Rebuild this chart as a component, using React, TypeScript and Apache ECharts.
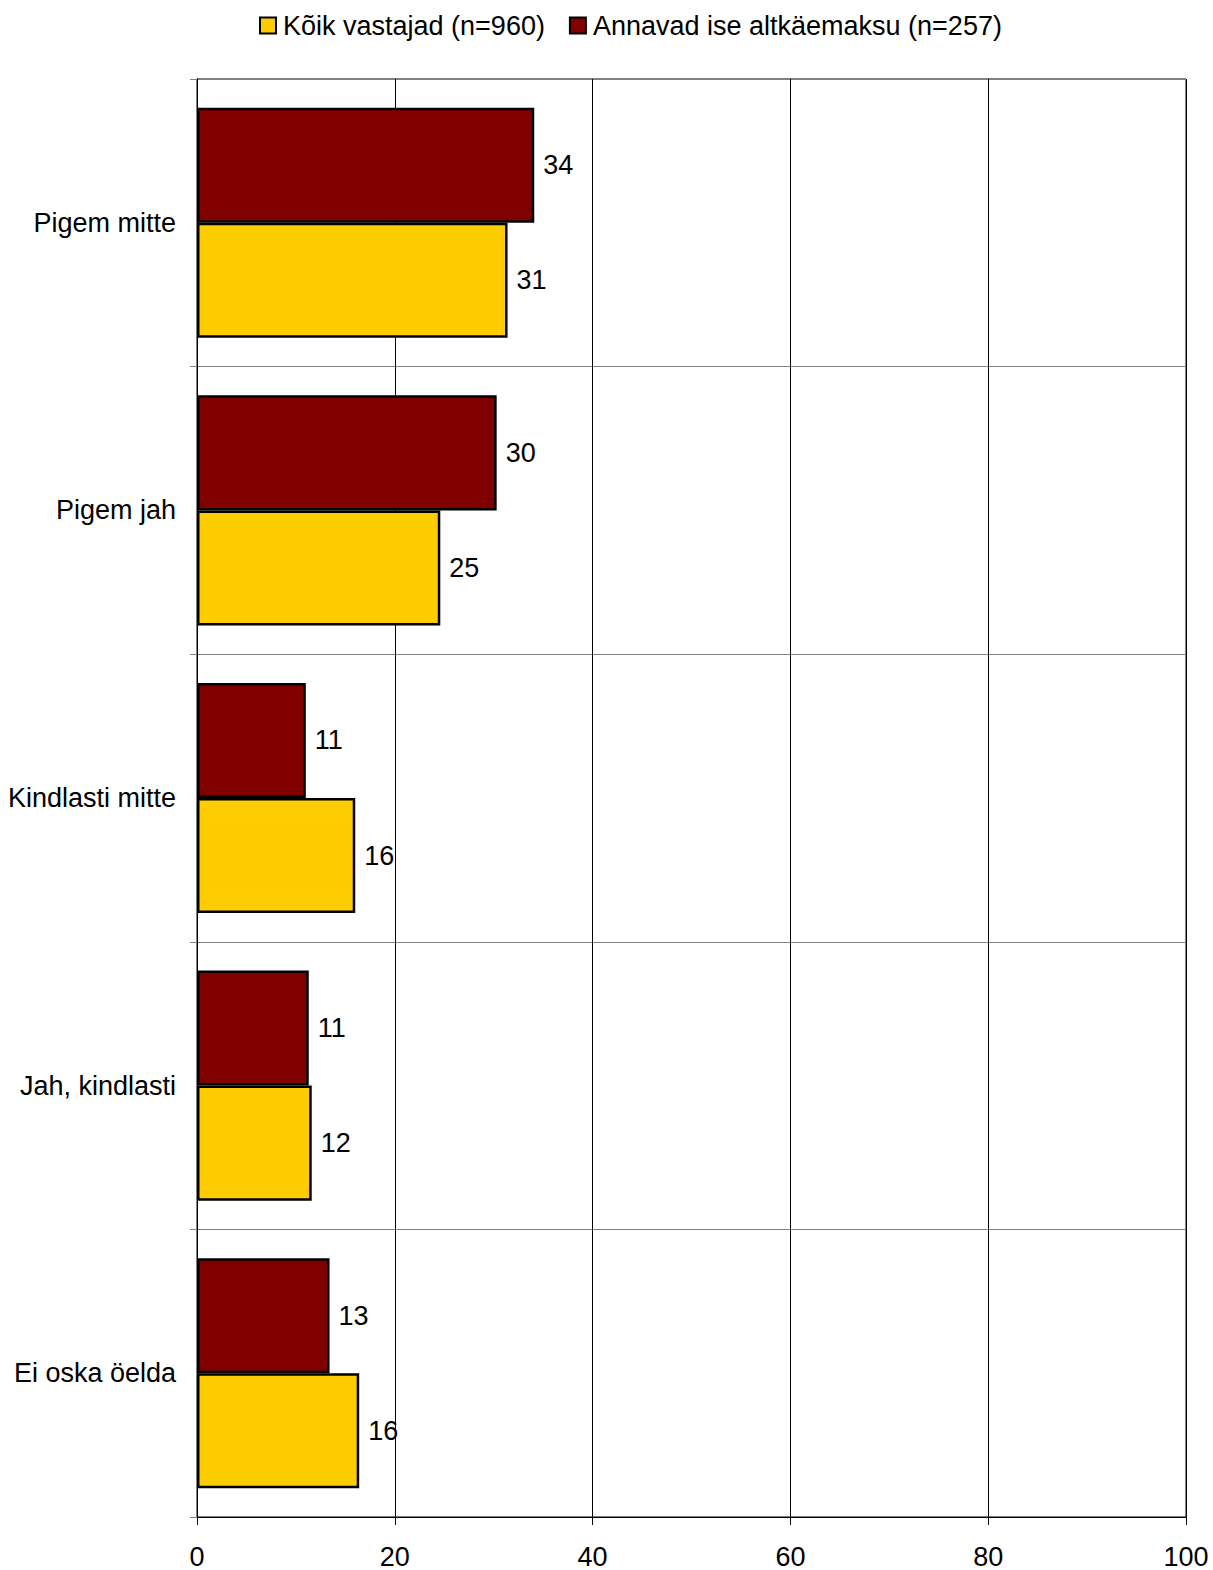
import React, { useEffect, useRef } from "react";
import * as echarts from "echarts";

const categories = ["Pigem mitte", "Pigem jah", "Kindlasti mitte", "Jah, kindlasti", "Ei oska öelda"];
const allRespondents = [31.4, 24.6, 16.0, 11.6, 16.4];
const bribeGivers = [34.1, 30.3, 11.0, 11.3, 13.4];
const seriesNames = ["Kõik vastajad (n=960)", "Annavad ise altkäemaksu (n=257)"];
const xTicks = [0, 20, 40, 60, 80, 100];

const FONT = "'Liberation Sans', Arial, sans-serif";
const FS = 27;

export default function App() {
  const ref = useRef<HTMLDivElement>(null);
  useEffect(() => {
    if (!ref.current) return;
    const chart = echarts.init(ref.current, undefined, { renderer: "svg" });
    const labelCfg = {
      show: true,
      position: "right",
      distance: 9,
      color: "#000",
      fontSize: FS,
      fontFamily: FONT,
      formatter: (p: any) => String(Math.round(p.value)),
    };
    chart.setOption({
      animation: false,
      backgroundColor: "#fff",
      textStyle: { fontFamily: FONT },
      legend: {
        top: 12,
        left: 259,
        padding: 0,
        itemWidth: 16,
        itemHeight: 16,
        itemGap: 24,
        icon: "rect",
        data: [seriesNames[0], seriesNames[1]],
        textStyle: { fontSize: FS, color: "#000", fontFamily: FONT, padding: [0, 0, 0, 2] },
      },
      grid: {
        left: 197,
        right: 27,
        top: 79,
        bottom: 53,
        show: true,
        borderColor: "#000",
        borderWidth: 1,
        containLabel: false,
      },
      xAxis: {
        type: "value",
        min: 0,
        max: 100,
        interval: 20,
        axisLine: { show: true, lineStyle: { color: "#000", width: 1 } },
        axisTick: { show: true, length: 8, lineStyle: { color: "#000" } },
        axisLabel: {
          fontSize: FS,
          color: "#000",
          fontFamily: FONT,
          margin: 26,
          formatter: (v: number) => (xTicks.includes(v) ? String(v) : ""),
        },
        splitLine: { show: true, lineStyle: { color: "#000", width: 1 } },
      },
      yAxis: {
        type: "category",
        data: categories,
        inverse: true,
        axisLine: { show: true, lineStyle: { color: "#000", width: 1 } },
        axisTick: { show: true, length: 7, lineStyle: { color: "#808080" } },
        axisLabel: { fontSize: FS, color: "#000", fontFamily: FONT, margin: 21 },
        splitLine: { show: true, lineStyle: { color: "#808080", width: 1 } },
      },
      series: [
        {
          name: seriesNames[1],
          type: "bar",
          data: bribeGivers,
          barGap: "0%",
          barCategoryGap: "20%",
          itemStyle: { color: "#800000", borderColor: "#000", borderWidth: 2.5 },
          label: labelCfg,
        },
        {
          name: seriesNames[0],
          type: "bar",
          data: allRespondents,
          barGap: "0%",
          barCategoryGap: "20%",
          itemStyle: { color: "#FFCC00", borderColor: "#000", borderWidth: 2.5 },
          label: labelCfg,
        },
      ],
    });
    return () => chart.dispose();
  }, []);
  return (
    <div
      ref={ref}
      style={{ position: "absolute", left: 0, top: 0, width: 1213, height: 1570 }}
    />
  );
}
